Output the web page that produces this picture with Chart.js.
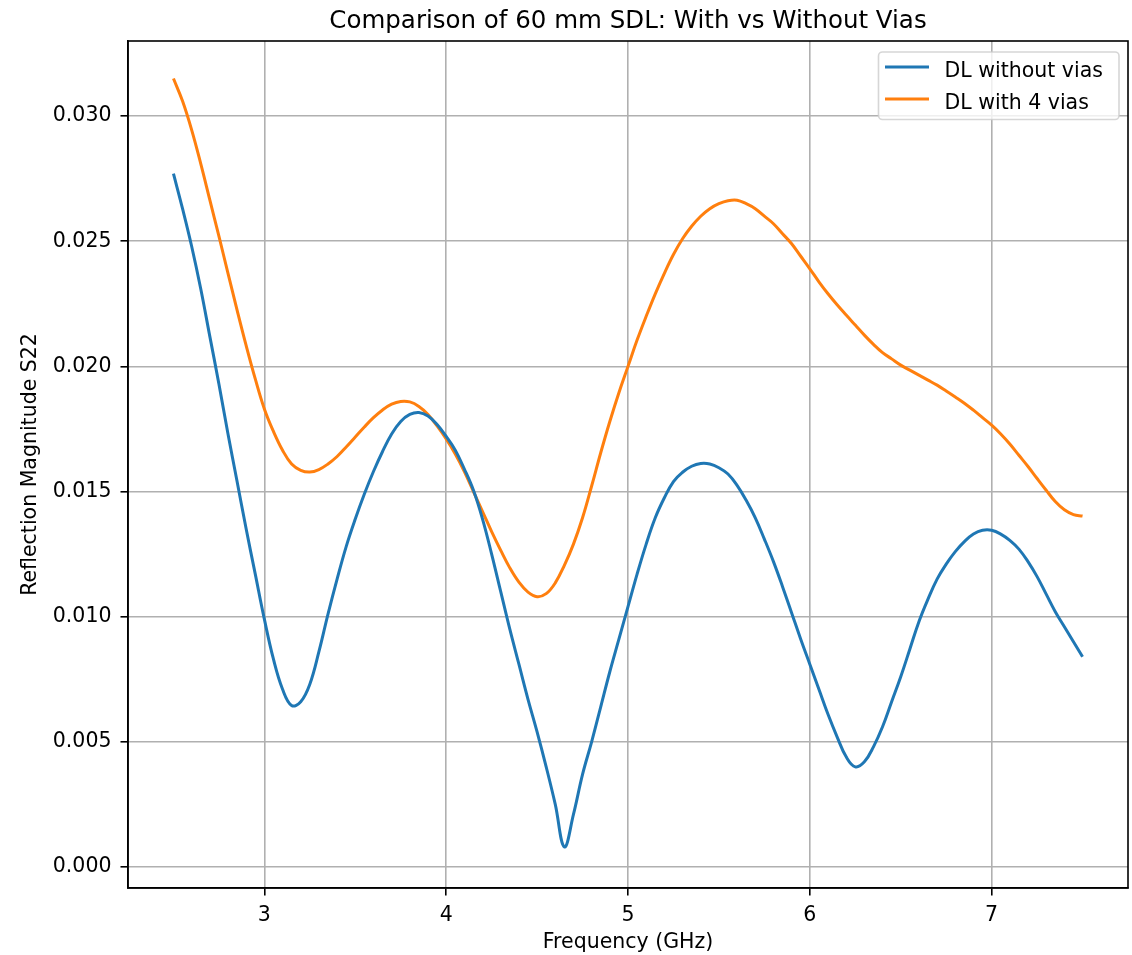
<!DOCTYPE html>
<html>
<head>
<meta charset="utf-8">
<title>S22 comparison</title>
<script src="https://cdn.jsdelivr.net/npm/chart.js"></script>
<style>
  body { margin: 0; background: #fff; }
  canvas { display: block; }
</style>
</head>
<body>
<canvas id="s22Chart" width="1132" height="955"></canvas>
<script>
// frequency points (GHz)
const freq = [
  2.50, 2.55, 2.60, 2.65, 2.70, 2.75, 2.80, 2.85, 2.90, 2.95,
  3.00, 3.05, 3.10, 3.15, 3.20, 3.25, 3.30, 3.35, 3.40, 3.45,
  3.50, 3.55, 3.60, 3.65, 3.70, 3.75, 3.80, 3.85, 3.90, 3.95,
  4.00, 4.05, 4.10, 4.15, 4.20, 4.25, 4.30, 4.35, 4.40, 4.45,
  4.50, 4.55, 4.60, 4.65, 4.70, 4.75, 4.80, 4.85, 4.90, 4.95,
  5.00, 5.05, 5.10, 5.15, 5.20, 5.25, 5.30, 5.35, 5.40, 5.45,
  5.50, 5.55, 5.60, 5.65, 5.70, 5.75, 5.80, 5.85, 5.90, 5.95,
  6.00, 6.05, 6.10, 6.15, 6.20, 6.25, 6.30, 6.35, 6.40, 6.45,
  6.50, 6.55, 6.60, 6.65, 6.70, 6.75, 6.80, 6.85, 6.90, 6.95,
  7.00, 7.05, 7.10, 7.15, 7.20, 7.25, 7.30, 7.35, 7.40, 7.45,
  7.50
];

// DL without vias
const s22NoVias = [
  0.0277, 0.0263, 0.0248, 0.0231, 0.0212, 0.0193, 0.0173, 0.0154, 0.0135, 0.0117,
  0.0099, 0.0083, 0.0071, 0.00645, 0.0066, 0.0073, 0.0086, 0.0101, 0.0115, 0.0128,
  0.0139, 0.0149, 0.0158, 0.0166, 0.0173, 0.0178, 0.01808, 0.01816, 0.01802, 0.01768,
  0.0172, 0.01665, 0.0159, 0.01505, 0.0139, 0.0125, 0.0110, 0.0095, 0.0081, 0.0067,
  0.0054, 0.0040, 0.0025, 0.0008, 0.0021, 0.0037, 0.0050, 0.0064, 0.0078, 0.0091,
  0.0104, 0.0117, 0.0129, 0.01395, 0.01475, 0.0154, 0.01577, 0.01601, 0.01612, 0.0161,
  0.01595, 0.0157, 0.01525, 0.01465, 0.01395, 0.0131, 0.0122, 0.0112, 0.01015, 0.0091,
  0.0081, 0.0071, 0.0061, 0.0052, 0.0044, 0.0040, 0.0042, 0.0048, 0.0056, 0.0066,
  0.0076, 0.0087, 0.0098, 0.0107, 0.0115, 0.0121, 0.0126, 0.0130, 0.0133, 0.01345,
  0.01345, 0.0133, 0.01305, 0.0127, 0.0122, 0.0116, 0.0109, 0.0102, 0.0096, 0.0090,
  0.0084
];

// DL with 4 vias
const s22FourVias = [
  0.0315, 0.0306, 0.02945, 0.0281, 0.02665, 0.0252, 0.02372, 0.02225, 0.02083, 0.0195,
  0.0183, 0.0174, 0.01665, 0.0161, 0.01585, 0.01578, 0.01588, 0.0161, 0.0164, 0.01678,
  0.01718, 0.01758, 0.01795, 0.01826, 0.01849, 0.0186, 0.01858, 0.0184, 0.01808, 0.01762,
  0.0171, 0.0165, 0.0158, 0.0150, 0.0142, 0.0134, 0.01265, 0.01195, 0.01138, 0.01098,
  0.0108, 0.01092, 0.01135, 0.01205, 0.0129, 0.01395, 0.01522, 0.01655, 0.0178, 0.01895,
  0.0200, 0.02105, 0.0220, 0.0229, 0.02372, 0.02447, 0.0251, 0.0256, 0.0260, 0.0263,
  0.0265, 0.02662, 0.02664, 0.0265, 0.0263, 0.0260, 0.0257, 0.0253, 0.0249, 0.0244,
  0.0239, 0.02338, 0.0229, 0.02246, 0.02205, 0.02165, 0.02125, 0.02088, 0.02055, 0.0203,
  0.02005, 0.01985, 0.01965, 0.01945, 0.01925, 0.01902, 0.01878, 0.01853, 0.01825, 0.01795,
  0.01765, 0.0173, 0.0169, 0.01645, 0.0160, 0.01552, 0.01505, 0.0146, 0.01427, 0.01408,
  0.01402
];

const seriesLabels = ['DL without vias', 'DL with 4 vias'];
const xTicks = [3, 4, 5, 6, 7];
const yTicks = [0, 0.005, 0.010, 0.015, 0.020, 0.025, 0.030];

const FONT = "'DejaVu Sans', 'Liberation Sans', sans-serif";

// spines, title and framed legend inside the plot, like matplotlib
const decorations = {
    id: 'decorations',
    afterDatasetsDraw(chart) {
        const ctx = chart.ctx;
        const area = chart.chartArea;
        ctx.save();

        // spines
        ctx.strokeStyle = '#000';
        ctx.lineWidth = 1.6;
        ctx.strokeRect(area.left, area.top, area.right - area.left, area.bottom - area.top);

        // title
        ctx.fillStyle = '#000';
        ctx.font = '24.5px ' + FONT;
        ctx.textAlign = 'center';
        ctx.textBaseline = 'alphabetic';
        ctx.fillText('Comparison of 60 mm SDL: With vs Without Vias', (area.left + area.right) / 2, 28);

        // legend box
        const bx = 878.5, by = 52, bw = 240.5, bh = 67.5;
        ctx.beginPath();
        ctx.roundRect(bx, by, bw, bh, 4);
        ctx.fillStyle = 'rgba(255,255,255,0.8)';
        ctx.fill();
        ctx.strokeStyle = 'rgba(204,204,204,0.8)';
        ctx.lineWidth = 1.6;
        ctx.stroke();

        ctx.font = '20.5px ' + FONT;
        ctx.textAlign = 'left';
        chart.data.datasets.forEach((ds, i) => {
            const ly = 67 + i * 32;
            ctx.strokeStyle = ds.borderColor;
            ctx.lineWidth = 3;
            ctx.beginPath();
            ctx.moveTo(885, ly);
            ctx.lineTo(929, ly);
            ctx.stroke();
            ctx.fillStyle = '#000';
            ctx.fillText(ds.label, 944.5, ly + 9.5);
        });
        ctx.restore();
    }
};

const ctx = document.getElementById('s22Chart').getContext('2d');
const s22Chart = new Chart(ctx, {
    type: 'line',
    data: {
        datasets: [
            {
                label: seriesLabels[0],
                data: freq.map((f, i) => ({ x: f, y: s22NoVias[i] })),
                borderColor: '#1f77b4',
                borderWidth: 3,
                pointRadius: 0,
                tension: 0.4,
                fill: false
            },
            {
                label: seriesLabels[1],
                data: freq.map((f, i) => ({ x: f, y: s22FourVias[i] })),
                borderColor: '#ff7f0e',
                borderWidth: 3,
                pointRadius: 0,
                tension: 0.4,
                fill: false
            }
        ]
    },
    options: {
        responsive: false,
        animation: false,
        layout: {
            autoPadding: false,
            padding: { top: 41, right: 4, bottom: 0, left: 0 }
        },
        plugins: {
            legend: { display: false },
            title: { display: false },
            tooltip: { enabled: false }
        },
        scales: {
            x: {
                type: 'linear',
                min: 2.25,
                max: 7.75,
                afterBuildTicks: function (scale) {
                    scale.ticks = xTicks.map(v => ({ value: v }));
                },
                afterFit: function (scale) {
                    scale.height = 67;
                },
                grid: {
                    color: '#b0b0b0',
                    lineWidth: 1.6,
                    tickColor: '#000',
                    tickLength: 7.5,
                    tickWidth: 1.6
                },
                border: { display: true, color: '#000', width: 1.6 },
                ticks: {
                    color: '#000',
                    padding: 8,
                    maxRotation: 0,
                    font: { family: FONT, size: 20.5 },
                    callback: function (value) { return String(value); }
                },
                title: {
                    display: true,
                    text: 'Frequency (GHz)',
                    color: '#000',
                    font: { family: FONT, size: 20.5 },
                    padding: { top: 0, bottom: 0.5 }
                }
            },
            y: {
                type: 'linear',
                min: -0.00084,
                max: 0.0330,
                afterBuildTicks: function (scale) {
                    scale.ticks = yTicks.map(v => ({ value: v }));
                },
                afterFit: function (scale) {
                    scale.width = 128;
                },
                grid: {
                    color: '#b0b0b0',
                    lineWidth: 1.6,
                    tickColor: '#000',
                    tickLength: 7.5,
                    tickWidth: 1.6
                },
                border: { display: true, color: '#000', width: 1.6 },
                ticks: {
                    color: '#000',
                    padding: 9,
                    font: { family: FONT, size: 20.5 },
                    callback: function (value) { return value.toFixed(3); }
                },
                title: {
                    display: true,
                    text: 'Reflection Magnitude S22',
                    color: '#000',
                    font: { family: FONT, size: 20.5 },
                    padding: { top: 18, bottom: 0 }
                }
            }
        }
    },
    plugins: [decorations]
});
</script>
</body>
</html>
